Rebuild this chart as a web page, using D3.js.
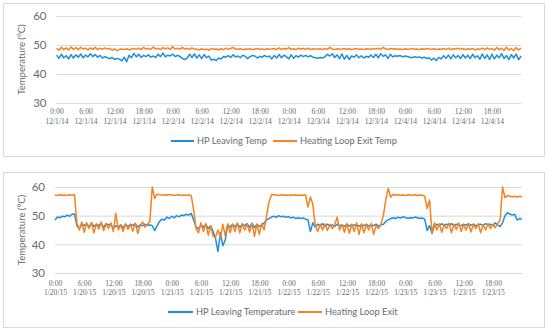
<!DOCTYPE html>
<html><head><meta charset="utf-8">
<script src="https://cdn.jsdelivr.net/npm/d3@7"></script>
<style>
body{margin:0;background:#fff;}
svg{display:block;}
</style></head>
<body>
<svg id="c" width="550" height="332"></svg>
<script>
// ---- data (30-minute readings) ----
const stepMinutes = 30;
const yTicks = [30, 40, 50, 60];

const decHpLeaving = [
46.5,45.4,46.8,45.6,46.3,45.2,46.7,45.5,46.6,45.8,
46.9,45.6,46.5,45.9,47.0,46.0,46.7,45.8,46.4,45.5,
46.0,45.6,45.3,45.7,45.0,45.4,45.1,44.5,45.8,44.2,
46.5,45.6,47.1,45.9,46.8,45.7,46.4,46.0,46.6,45.8,
46.2,45.7,46.8,46.0,47.2,45.9,46.5,46.2,46.9,46.0,
46.4,46.1,45.4,45.0,45.5,46.8,45.7,46.9,45.5,46.6,
45.3,46.7,45.6,46.2,44.8,45.1,44.6,45.5,45.2,46.0,
45.8,46.3,45.7,46.6,45.9,46.2,45.6,46.5,46.1,45.3,
46.0,46.4,46.2,45.5,46.1,45.8,46.4,45.9,46.2,45.2,
46.4,45.5,46.7,45.6,46.5,46.0,45.2,46.6,45.4,46.3,
45.8,46.5,46.0,46.4,45.9,46.3,45.8,45.6,45.4,45.7,
45.5,46.0,46.8,46.2,47.0,45.7,46.6,45.3,46.9,45.1,
46.4,45.0,46.2,45.8,46.6,45.6,46.3,45.5,46.1,45.8,
46.5,45.7,46.8,45.6,47.0,46.1,46.6,45.4,46.8,45.9,
46.3,46.1,46.4,45.9,46.2,46.0,45.8,45.6,46.0,45.7,
45.9,45.5,45.8,45.3,45.6,44.8,45.5,44.6,45.7,45.2,
46.3,45.4,46.5,45.2,46.6,45.6,46.4,45.3,46.7,45.5,
46.5,45.3,46.8,45.6,46.3,45.1,46.9,45.4,46.6,45.0,
46.8,45.2,46.5,45.6,47.0,45.3,46.4,45.0,46.7,45.5,
46.9,44.9,46.2];

const decLoopExit = [
48.8,48.2,49.2,48.4,49.0,48.3,49.3,48.5,49.1,48.4,
49.2,48.6,48.9,48.3,49.0,48.5,49.2,48.4,48.9,48.5,
49.0,48.6,48.8,48.2,48.7,48.0,48.5,48.6,48.4,48.7,
48.3,48.6,48.8,48.5,48.9,48.4,49.2,48.6,48.8,48.5,
49.3,48.6,48.9,48.4,49.1,48.7,49.0,48.5,49.4,48.6,
48.9,48.5,49.2,48.6,48.8,48.5,49.0,48.6,48.5,48.3,
48.7,48.4,48.6,48.2,48.8,48.5,48.6,48.3,48.7,48.4,
48.9,48.5,48.8,49.2,48.6,48.5,48.7,48.4,48.6,48.5,
48.7,48.4,48.6,48.8,48.5,48.6,48.4,48.7,48.5,48.6,
48.8,48.4,49.0,48.5,48.8,48.6,49.1,48.5,48.7,48.4,
48.9,48.6,48.8,48.5,48.9,48.4,48.7,48.6,48.5,48.7,
48.4,48.8,48.5,49.2,48.6,48.4,48.7,48.5,48.6,48.8,
48.5,48.7,48.4,48.6,48.8,48.5,48.6,48.4,48.7,48.6,
48.5,48.8,48.6,48.9,48.5,49.2,48.7,48.4,48.8,48.6,
48.7,48.5,48.6,48.4,48.7,48.5,48.6,48.8,48.5,48.6,
48.4,48.7,48.5,48.8,48.6,48.5,48.7,48.4,48.6,48.5,
48.8,48.5,48.9,48.4,48.7,48.6,48.9,48.5,48.8,48.4,
48.7,48.5,48.8,48.3,48.6,48.5,48.9,48.4,49.0,48.5,
48.8,48.2,49.1,48.4,48.9,48.1,49.2,48.3,48.8,48.0,
49.1,48.3,48.9];

const janHpLeaving = [
48.5,49.5,49.3,49.8,49.6,50.2,49.8,50.5,50.6,46.5,
45.5,47.0,46.5,47.2,46.0,47.5,46.2,47.0,46.5,47.3,
46.0,47.2,46.8,47.0,45.5,46.5,46.0,46.8,45.8,47.0,
46.2,47.0,46.5,47.2,46.0,46.8,46.5,47.0,46.6,46.8,
46.5,44.8,46.5,48.0,48.8,48.5,49.5,49.0,49.8,49.2,
50.0,49.6,50.2,50.0,50.5,50.2,50.8,48.5,46.0,45.5,
46.8,46.0,47.0,45.5,46.5,44.5,42.0,37.5,44.0,39.5,
41.5,46.8,46.0,47.0,46.2,47.2,46.0,47.0,46.5,47.2,
46.0,47.3,45.8,47.0,46.2,46.8,47.5,48.5,49.0,49.5,
49.8,49.4,50.0,49.6,49.8,49.4,49.7,49.2,49.5,49.0,
49.3,49.0,49.2,48.8,48.5,44.5,47.5,46.0,47.0,46.5,
47.2,46.2,47.0,46.5,46.8,46.2,47.0,46.5,46.8,46.3,
47.0,46.4,46.8,46.6,47.0,46.3,46.8,46.5,47.0,46.4,
46.8,46.5,47.0,46.4,46.8,47.0,48.0,48.5,49.0,49.3,
49.0,49.5,49.2,49.6,49.4,49.0,49.3,49.2,49.5,49.3,
49.0,49.2,48.8,44.8,46.5,43.8,46.5,47.0,46.5,47.2,
46.5,47.0,46.6,47.2,46.5,47.0,46.8,46.5,47.0,46.7,
47.2,46.6,47.0,46.5,46.8,47.0,46.6,47.2,46.8,47.0,
46.5,47.5,46.8,46.2,47.5,50.0,51.0,50.6,50.2,50.5,
48.5,49.0,48.8];

const janLoopExit = [
57.2,57.0,57.3,57.1,57.2,57.0,57.3,57.1,57.3,47.5,
45.0,47.8,44.2,47.5,45.5,47.6,44.0,47.2,45.3,47.8,
44.8,47.0,45.6,47.5,44.5,50.8,45.0,46.8,44.5,47.2,
45.2,47.0,44.6,47.4,43.8,46.5,47.8,46.0,47.0,48.0,
60.0,56.0,57.5,57.3,57.2,57.3,57.1,57.4,57.2,57.0,
57.2,57.3,57.0,57.2,57.1,57.3,57.0,52.0,45.5,44.0,
47.5,44.5,47.2,43.2,46.5,42.8,42.5,45.0,42.3,47.0,
43.0,47.2,44.0,47.0,44.5,47.5,44.0,47.3,45.0,47.0,
44.3,47.4,42.8,47.0,43.5,47.2,45.0,50.0,55.0,57.2,
57.4,57.2,57.0,57.3,57.1,57.2,57.0,57.3,57.1,57.2,
57.0,57.2,57.1,57.3,53.0,56.5,54.0,46.5,44.5,47.0,
45.0,47.2,44.8,47.0,45.5,46.8,49.5,45.0,46.8,44.2,
47.3,43.8,47.0,44.5,47.5,43.5,47.2,44.0,47.0,45.0,
47.3,43.5,46.5,45.5,47.0,50.0,55.5,59.5,56.5,57.4,
57.2,57.3,57.1,57.2,57.0,57.3,57.2,57.1,57.3,57.0,
57.2,57.1,56.8,52.5,55.5,44.0,47.5,45.0,47.2,44.2,
46.8,45.5,47.4,44.0,47.0,45.2,47.5,44.5,46.8,45.0,
47.3,44.3,47.0,45.5,47.2,44.0,46.8,45.0,47.2,45.5,
47.0,45.8,47.2,48.5,60.0,56.3,57.0,56.8,56.6,56.8,
56.5,56.8,56.6];

const topNames = ["HP Leaving Temp", "Heating Loop Exit Temp"];
const bottomNames = ["HP Leaving Temperature", "Heating Loop Exit"];
const yTitle = "Temperature (°C)";

// ---- drawing ----
const BLUE = "#1f8fd8", ORANGE = "#f7821f", GRID = "#d9d9d9", TXT = "#6b6b6b";
const svg = d3.select("#c");
svg.append("rect").attr("width",550).attr("height",332).attr("fill","#fff");

function panel(cfg){
  const g = svg.append("g");
  g.append("rect").attr("x",cfg.box[0]+0.5).attr("y",cfg.box[1]+0.5)
    .attr("width",cfg.box[2]).attr("height",cfg.box[3])
    .attr("fill","#fff").attr("stroke",GRID).attr("stroke-width",1);

  const x = d3.scaleTime().domain([cfg.start, cfg.end]).range(cfg.xr);
  const y = d3.scaleLinear().domain([30,60]).range(cfg.yr);

  // grid + y labels
  const ya = d3.axisLeft(y).tickValues(yTicks).tickSize(-(cfg.xr[1]-cfg.xr[0])).tickPadding(10);
  const yg = g.append("g").attr("transform",`translate(${cfg.xr[0]},0)`).call(ya);
  yg.select(".domain").remove();
  yg.selectAll("line").attr("stroke",GRID).attr("stroke-width",1);
  yg.selectAll("text").attr("fill",TXT).style("font-family","Lato, 'Open Sans', sans-serif").style("font-size","11.5px");

  // x labels
  const ticks = d3.timeHour.every(6).range(cfg.start, cfg.end);
  const fT = d3.timeFormat("%-H:%M"), fD = d3.timeFormat("%-m/%-d/%y");
  const xa = d3.axisBottom(x).tickValues(ticks).tickSize(0).tickFormat("");
  const xg = g.append("g").attr("transform",`translate(0,${cfg.yr[0]})`).call(xa);
  xg.select(".domain").remove();
  xg.selectAll(".tick").each(function(d){
    const t = d3.select(this).append("text").attr("fill",TXT).attr("text-anchor","middle")
      .style("font-family","'Liberation Serif', 'DejaVu Serif', serif").style("font-size","7.6px");
    t.append("tspan").attr("x",0).attr("y",cfg.lab1).text(fT(d));
    t.append("tspan").attr("x",0).attr("y",cfg.lab2).text(fD(d));
  });

  // y title
  g.append("text").attr("transform",`translate(${cfg.titleX},${(cfg.yr[0]+cfg.yr[1])/2}) rotate(-90)`)
    .attr("text-anchor","middle").attr("fill",TXT)
    .style("font-family","Lato, 'Open Sans', sans-serif").style("font-size","9.5px").text(yTitle);

  // lines
  const line = d3.line()
    .x((d,i)=>x(d3.timeMinute.offset(cfg.start, i*stepMinutes)))
    .y(d=>y(d));
  [[cfg.s1,BLUE],[cfg.s2,ORANGE]].forEach(([s,c])=>{
    g.append("path").datum(s).attr("d",line).attr("fill","none")
      .attr("stroke",c).attr("stroke-width",1.5).attr("stroke-linejoin","round");
  });

  // legend
  cfg.legend.forEach((L,i)=>{
    const c = i===0?BLUE:ORANGE;
    g.append("line").attr("x1",L[0]).attr("x2",L[1]).attr("y1",cfg.legY).attr("y2",cfg.legY)
      .attr("stroke",c).attr("stroke-width",2);
    g.append("text").attr("x",L[1]+3).attr("y",cfg.legY+3.3).attr("fill",TXT)
      .style("font-family","Lato, 'Open Sans', sans-serif").style("font-size","9.3px")
      .text(cfg.names[i]);
  });
}

panel({
  box:[3,3,541,153],
  start:new Date(2014,11,1), end:new Date(2014,11,5),
  xr:[56.5,521], yr:[103,16],
  lab1:113.5-103, lab2:123.5-103, titleX:25,
  s1:decHpLeaving, s2:decLoopExit,
  legY:141, legend:[[171,194],[273,297]], names:topNames
});
panel({
  box:[3,172,541,155],
  start:new Date(2015,0,20), end:new Date(2015,0,24),
  xr:[55,522], yr:[273,187],
  lab1:285.5-273, lab2:295-273, titleX:25,
  s1:janHpLeaving, s2:janLoopExit,
  legY:312, legend:[[168,193],[298,322]], names:bottomNames
});
</script>
</body></html>
